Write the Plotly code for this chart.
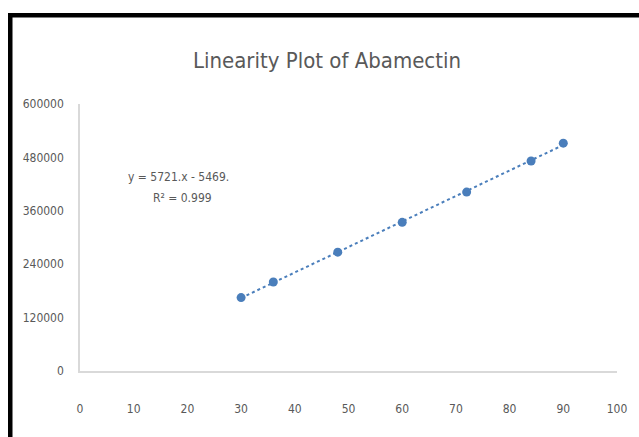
import numpy as np
import plotly.graph_objects as go

# Data
concentration = [30, 36, 48, 60, 72, 84, 90]
area = [165000, 200000, 267000, 334000, 402000, 472000, 512000]
x_ticks = [0, 10, 20, 30, 40, 50, 60, 70, 80, 90, 100]
y_ticks = [0, 120000, 240000, 360000, 480000, 600000]
title_text = "Linearity Plot of Abamectin"
equation_lines = ["y = 5721.x - 5469.", "R² = 0.999"]

slope, intercept = np.polyfit(concentration, area, 1)
trend_x = [min(concentration), max(concentration)]
trend_y = [slope * v + intercept for v in trend_x]

FONT = "Liberation Sans Narrow, DejaVu Sans Condensed, Arial Narrow, sans-serif"
GRAY = "#595959"
BLUE = "#4a7ebb"

W, H = 639, 437
ml, mr, mt, mb = 80, 22, 104, 66

fig = go.Figure()
fig.add_trace(go.Scatter(x=trend_x, y=trend_y, mode="lines",
                         line=dict(color=BLUE, width=2, dash="dot"),
                         hoverinfo="skip", showlegend=False))
fig.add_trace(go.Scatter(x=concentration, y=area, mode="markers",
                         marker=dict(color=BLUE, size=9),
                         showlegend=False))

pw = W - ml - mr
ph = H - mt - mb
def px_to_paper_x(px):
    return (px - ml) / pw
def py_to_paper_y(py):
    return (H - mb - py) / ph

# black frame (left and top edges)
fig.add_shape(type="rect", xref="paper", yref="paper",
              x0=px_to_paper_x(8), x1=px_to_paper_x(12.5),
              y0=py_to_paper_y(437), y1=py_to_paper_y(13),
              fillcolor="black", line_width=0, layer="above")
fig.add_shape(type="rect", xref="paper", yref="paper",
              x0=px_to_paper_x(8), x1=px_to_paper_x(639),
              y0=py_to_paper_y(17.5), y1=py_to_paper_y(13),
              fillcolor="black", line_width=0, layer="above")

fig.add_annotation(xref="paper", yref="paper", x=px_to_paper_x(178), y=py_to_paper_y(177),
                   xanchor="center", yanchor="middle",
                   text=equation_lines[0], showarrow=False,
                   font=dict(family=FONT, size=12, color=GRAY))
fig.add_annotation(xref="paper", yref="paper", x=px_to_paper_x(182), y=py_to_paper_y(198),
                   xanchor="center", yanchor="middle",
                   text=equation_lines[1], showarrow=False,
                   font=dict(family=FONT, size=12, color=GRAY))

fig.update_layout(
    width=W, height=H,
    margin=dict(l=ml, r=mr, t=mt, b=mb),
    paper_bgcolor="white", plot_bgcolor="white",
    title=dict(text=title_text, x=327 / W, xanchor="center",
               y=1 - 60 / H, yanchor="middle",
               font=dict(family=FONT, size=22, color=GRAY)),
    xaxis=dict(range=[0, 100], tickvals=x_ticks, showgrid=False, zeroline=False,
               showline=True, linecolor="#d9d9d9", linewidth=1.5, ticks="",
               ticklabelstandoff=26,
               tickfont=dict(family=FONT, size=12, color=GRAY)),
    yaxis=dict(range=[0, 600000], tickvals=y_ticks, showgrid=False, zeroline=False,
               showline=True, linecolor="#d9d9d9", linewidth=1.5, ticks="",
               tickformat="d", ticklabelstandoff=12,
               tickfont=dict(family=FONT, size=12, color=GRAY)),
)

fig.write_html("out.html", config={"displayModeBar": False},
               post_script="document.body.style.margin='0';document.body.style.overflow='hidden';")
